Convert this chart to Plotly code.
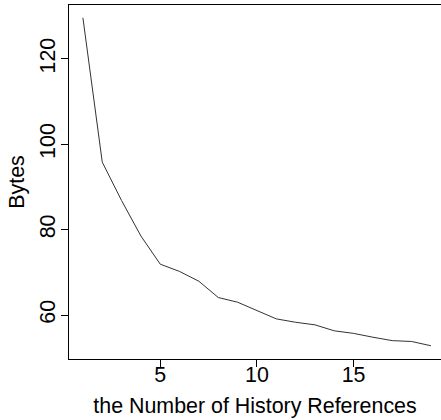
import plotly.graph_objects as go

refs = list(range(1, 20))
bytes_vals = [129.6, 95.8, 86.8, 78.5, 71.9, 70.2, 67.9, 64.1, 63.0, 61.1,
              59.1, 58.3, 57.7, 56.3, 55.7, 54.8, 54.0, 53.8, 52.8]
x_ticks = [5, 10, 15]
y_ticks = [60, 80, 100, 120]

font_family = "Liberation Sans, Arial, sans-serif"
fs = 21.4
x_range = [0.28, 19.52]
y_range = [49.7, 132.6]

fig = go.Figure()
fig.add_trace(go.Scatter(x=refs, y=bytes_vals, mode="lines",
                         line=dict(color="#333333", width=1), showlegend=False))
# invisible twin trace to anchor the label-only axes
fig.add_trace(go.Scatter(x=refs, y=bytes_vals, mode="lines", xaxis="x2", yaxis="y2",
                         line=dict(color="rgba(0,0,0,0)", width=0), showlegend=False,
                         hoverinfo="skip"))

fig.update_layout(
    width=441, height=420,
    margin=dict(l=69, r=0, t=5, b=61),
    paper_bgcolor="white", plot_bgcolor="white",
    font=dict(family=font_family, size=fs, color="black"),
    xaxis=dict(range=x_range, tickvals=x_ticks, showticklabels=False,
               showgrid=False, zeroline=False, showline=True, linecolor="black",
               linewidth=1, mirror=True, ticks="outside", ticklen=7,
               tickcolor="black", tickwidth=1),
    yaxis=dict(range=y_range, tickvals=y_ticks, showticklabels=False,
               showgrid=False, zeroline=False, showline=True, linecolor="black",
               linewidth=1, ticks="outside", ticklen=7, tickcolor="black", tickwidth=1),
    xaxis2=dict(range=x_range, tickvals=x_ticks, ticktext=[str(v) for v in x_ticks],
                overlaying="x", side="bottom", anchor="y2", showgrid=False,
                zeroline=False, showline=False, ticks="", tickfont=dict(size=fs),
                ticklabelstandoff=1, automargin=False,
                title=dict(text="the Number of History References",
                           font=dict(size=fs), standoff=11)),
    yaxis2=dict(range=y_range, tickvals=y_ticks, ticktext=[str(v) for v in y_ticks],
                overlaying="y", side="left", anchor="x2", showgrid=False,
                zeroline=False, showline=False, ticks="", tickangle=-90,
                tickfont=dict(size=fs), ticklabelstandoff=9, automargin=False,
                title=dict(text="Bytes", font=dict(size=fs), standoff=5)),
)

fig.write_html("out.html")
